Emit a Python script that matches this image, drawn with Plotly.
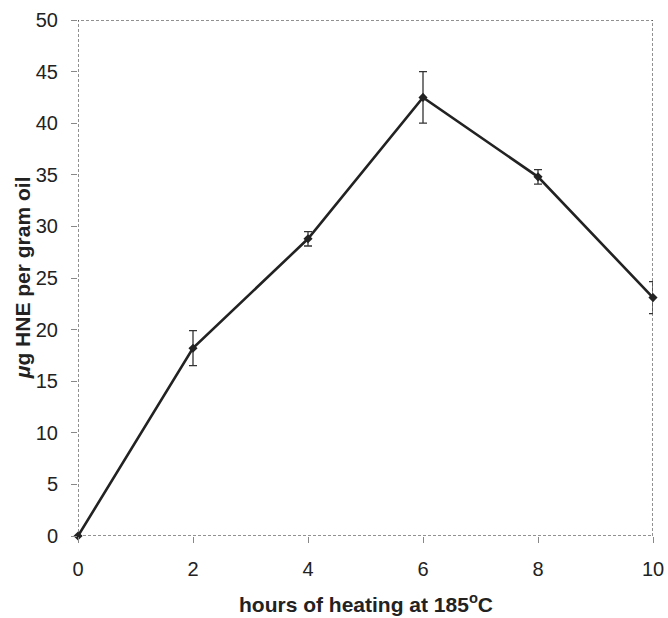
import plotly.graph_objects as go

# HNE content of oil over heating time
hours = [0, 2, 4, 6, 8, 10]
hne_ug_per_g = [0.0, 18.2, 28.8, 42.5, 34.8, 23.1]
hne_err = [0.0, 1.7, 0.7, 2.5, 0.7, 1.55]

x_ticks = [0, 2, 4, 6, 8, 10]
y_ticks = [0, 5, 10, 15, 20, 25, 30, 35, 40, 45, 50]

font_family = "Liberation Sans, Arial, sans-serif"
ink = "#222222"

fig = go.Figure()
fig.add_trace(go.Scatter(
    x=hours,
    y=hne_ug_per_g,
    mode="lines+markers",
    line=dict(color=ink, width=2.6),
    marker=dict(symbol="diamond", size=7, color=ink),
    error_y=dict(type="data", array=hne_err, visible=True,
                 color="#333333", thickness=1.3, width=4),
    cliponaxis=False,
    showlegend=False,
))

# dashed frame around the plotting area
fig.add_shape(type="rect", xref="x", yref="y", x0=0, x1=10, y0=0, y1=50,
              line=dict(color="#222222", width=1, dash="3px,2px"), layer="below")

fig.update_xaxes(
    range=[0, 10], tickvals=x_ticks, ticktext=[str(v) for v in x_ticks],
    showgrid=False, zeroline=False, showline=False, automargin=False,
    ticks="outside", ticklen=6, tickcolor="#888888", tickwidth=1,
    ticklabelstandoff=9,
    tickfont=dict(family=font_family, size=20, color=ink),
)
fig.update_yaxes(
    range=[0, 50], tickvals=y_ticks, ticktext=[str(v) for v in y_ticks],
    showgrid=False, zeroline=False, showline=False, automargin=False,
    ticks="outside", ticklen=6, tickcolor="#888888", tickwidth=1,
    ticklabelstandoff=9,
    tickfont=dict(family=font_family, size=20, color=ink),
)

# axis titles
title_font = dict(family=font_family, size=21, color=ink)
fig.add_annotation(text="<b>hours of heating at 185<sup>o</sup>C</b>",
                   xref="paper", yref="paper", x=0.5, y=-0.13,
                   xanchor="center", yanchor="middle", showarrow=False,
                   font=title_font)
fig.add_annotation(text="<b><i>μ</i>g HNE per gram oil</b>",
                   xref="paper", yref="paper", x=-0.097, y=0.5,
                   xanchor="center", yanchor="middle", showarrow=False,
                   textangle=-90, font=title_font)

fig.update_layout(
    width=668, height=618,
    margin=dict(l=78, r=15, t=20, b=82),
    paper_bgcolor="white", plot_bgcolor="white",
)

fig.write_html("out.html")
